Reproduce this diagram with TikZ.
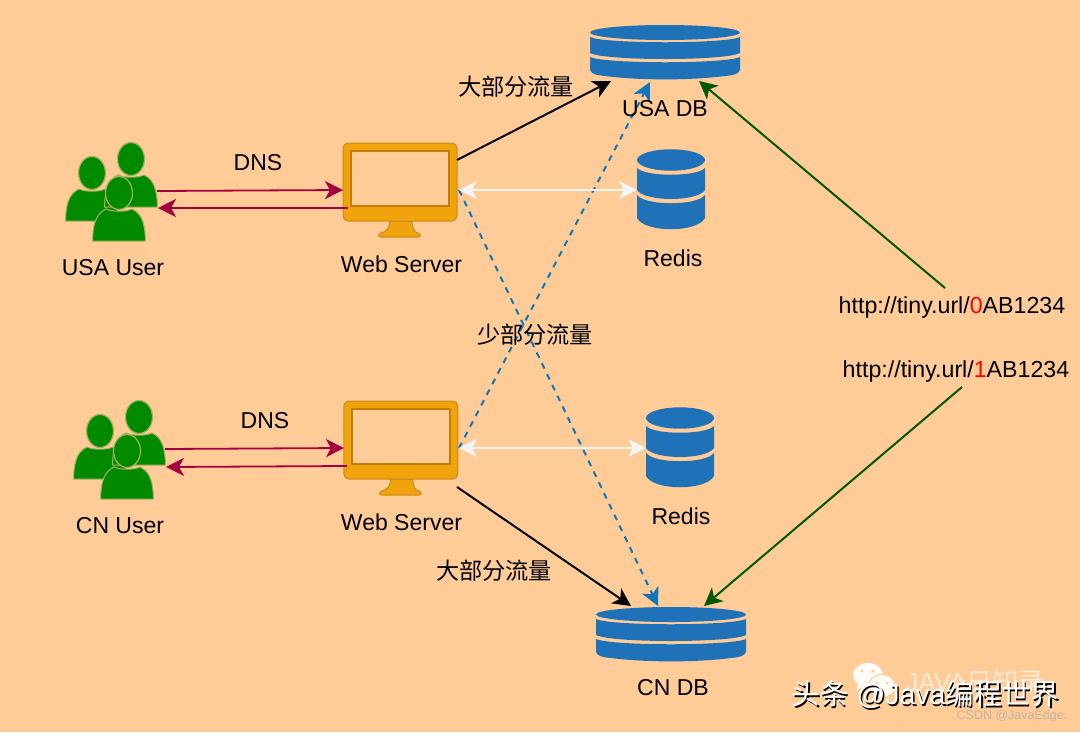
\documentclass[tikz,border=0pt]{standalone}
\usepackage{fontspec}
\setmainfont{Liberation Sans}
\newfontfamily\cjk{Noto Sans CJK SC}
\usetikzlibrary{arrows.meta}
\definecolor{bgc}{HTML}{FFCB96}
\definecolor{dbblue}{HTML}{2072B8}
\definecolor{xblue}{HTML}{1176B8}
\definecolor{pgreen}{HTML}{008A00}
\definecolor{pedge}{HTML}{A8B060}
\definecolor{monfill}{HTML}{F0A30A}
\definecolor{monedge}{HTML}{C98A20}
\definecolor{scredge}{HTML}{C27C08}
\definecolor{dnsred}{HTML}{A50040}
\definecolor{dgreen}{HTML}{005700}
\definecolor{wwhite}{HTML}{F5F5F5}
\definecolor{csdn}{HTML}{C4B5A2}
\tikzset{
  lbl/.style={font=\fontsize{23}{26}\selectfont,text=black,inner sep=0pt,align=center},
  zh/.style={font=\fontsize{23.2}{26}\selectfont\cjk,text=black,inner sep=0pt},
  url/.style={font=\fontsize{23.2}{26}\selectfont,text=black,inner sep=0pt},
  tip/.style={-{Stealth[length=18pt,width=18pt,inset=5pt]}},
  dns/.style={tip,draw=dnsred,line width=1.8pt},
  flow/.style={tip,draw=black,line width=2pt},
  cross/.style={tip,draw=xblue,line width=2pt,dash pattern=on 6pt off 6pt},
  cache/.style={{Stealth[length=18pt,width=18pt,inset=5pt]}-{Stealth[length=18pt,width=18pt,inset=5pt]},draw=wwhite,line width=2pt},
  link/.style={tip,draw=dgreen,line width=2pt},
  person/.pic={
    \path[fill=pgreen,draw=pedge,line width=1pt]
      (-26.5,48) .. controls (-26,33) and (-24,21) .. (-13,16)
      .. controls (-6,19) and (6,19) .. (13,16)
      .. controls (24,21) and (26,33) .. (26.5,48) -- cycle;
    \path[fill=pgreen,draw=pedge,line width=1.2pt] (0,0) ellipse [x radius=13.5pt,y radius=16.5pt];
  },
  users/.pic={
    \pic at (92,173) {person};
    \pic at (131,159) {person};
    \pic at (119,193) {person};
  },
  monitor/.pic={
    \path[fill=monfill,draw=monedge,line width=1pt]
      (390,221) .. controls (390,228) and (386,232) .. (381,233)
      .. controls (378,234) and (378,237) .. (381,237) -- (418,237)
      .. controls (421,237) and (421,234) .. (418,233)
      .. controls (414,232) and (412,228) .. (412,221) -- cycle;
    \path[fill=monfill,draw=monedge,line width=1pt,rounded corners=5pt] (343,143) rectangle (457,221);
    \path[fill=bgc,draw=scredge,line width=1.6pt] (351,151) rectangle (449,206);
  },
  db/.pic={
    \path[fill=dbblue] (665,32.5) ellipse [x radius=75pt,y radius=7.5pt];
    \path[fill=dbblue] (590,37) .. controls (605,44) and (725,44) .. (740,37) -- (740,53)
      .. controls (725,61) and (605,61) .. (590,53) -- cycle;
    \path[fill=dbblue] (590,57) .. controls (605,64) and (725,64) .. (740,57) -- (740,70)
      .. controls (738,74) and (735,75) .. (725,76) .. controls (690,80.5) and (640,80.5) .. (605,76)
      .. controls (595,75) and (592,74) .. (590,70) -- cycle;
  },
  cyl/.pic={
    \path[fill=dbblue] (671,160) ellipse [x radius=34pt,y radius=10.7pt];
    \path[fill=dbblue] (637,168) .. controls (645,177) and (697,177) .. (705,168) -- (705,190)
      .. controls (697,202) and (645,202) .. (637,190) -- cycle;
    \path[fill=dbblue] (637,195) .. controls (645,206) and (697,206) .. (705,195) -- (705,218)
      .. controls (697,233) and (645,233) .. (637,218) -- cycle;
  },
}
\begin{document}
\begin{tikzpicture}[x=1pt,y=-1pt]
\useasboundingbox[fill=bgc] (0,0) rectangle (1080,732);

% shapes
\pic at (0,0) {users};
\pic at (8,258) {users};
\pic at (0,0) {monitor};
\pic at (0.8,258) {monitor};
\pic at (0,0) {cyl};
\pic at (9,258) {cyl};
\pic at (0,0) {db};
\pic at (6,582) {db};

% connector ends
\coordinate (usaUserOut) at (157,191);
\coordinate (usaUserIn) at (158,208);
\coordinate (usaWebIn) at (343,190);
\coordinate (usaWebOut) at (348,208);
\coordinate (usaWebTop) at (457,160);
\coordinate (usaWebRight) at (459,190);
\coordinate (usaRedis) at (637,190);
\coordinate (usaDbA) at (611,81);
\coordinate (usaDbB) at (650,82);
\coordinate (usaDbC) at (699,81);
\coordinate (cnUserOut) at (165,449);
\coordinate (cnUserIn) at (166,467);
\coordinate (cnWebIn) at (344,448);
\coordinate (cnWebOut) at (347,466);
\coordinate (cnWebBottom) at (457,487);
\coordinate (cnWebRight) at (459,448);
\coordinate (cnRedis) at (646,448);
\coordinate (cnDbA) at (631,606);
\coordinate (cnDbB) at (658,606);
\coordinate (cnDbC) at (704,606);
\coordinate (url0From) at (945,288);
\coordinate (url1From) at (962,387);

% connectors
\draw[dns] (usaUserOut) -- (usaWebIn);
\draw[dns] (usaWebOut) -- (usaUserIn);
\draw[dns] (cnUserOut) -- (cnWebIn);
\draw[dns] (cnWebOut) -- (cnUserIn);
\draw[flow] (usaWebTop) -- (usaDbA);
\draw[flow] (cnWebBottom) -- (cnDbA);
\draw[cross] (usaWebRight) -- (cnDbB);
\draw[cross] (cnWebRight) -- (usaDbB);
\draw[cache] (usaWebRight) -- (usaRedis);
\draw[cache] (cnWebRight) -- (cnRedis);
\draw[link] (url0From) -- (usaDbC);
\draw[link] (url1From) -- (cnDbC);

% labels
\node[lbl] (usaUserLbl) at (113,268) {USA User};
\node[lbl] (cnUserLbl) at (120,526) {CN User};
\node[lbl] (usaWebLbl) at (401.5,264) {Web Server};
\node[lbl] (cnWebLbl) at (401.5,522) {Web Server};
\node[lbl] (dns1) at (258,163) {DNS};
\node[lbl] (dns2) at (265,421) {DNS};
\node[lbl] (redis1) at (673,258) {Redis};
\node[lbl] (redis2) at (681,516) {Redis};
\node[lbl] (usaDbLbl) at (665,109) {USA DB};
\node[lbl] (cnDbLbl) at (673,688) {CN DB};
\node[zh] (most1) at (516,87) {大部分流量};
\node[zh] (most2) at (494,571) {大部分流量};
\node[zh] (few) at (535,335) {少部分流量};
\node[url] (url0) at (952,307) {http://tiny.url/\textcolor{red}{0}AB1234};
\node[url] (url1) at (956,371) {http://tiny.url/\textcolor{red}{1}AB1234};

% watermark
\path[fill=white!93!bgc] (868,675) ellipse [x radius=15pt,y radius=12pt];
\path[fill=white!93!bgc] (858,684) -- (856,691) -- (864,686) -- cycle;
\path[fill=bgc] (862,671) circle (1.6pt) (873,671) circle (1.6pt);
\path[fill=white!93!bgc,draw=bgc,line width=1pt] (882,686) ellipse [x radius=13.5pt,y radius=11.5pt];
\path[fill=bgc] (877,683) circle (1.4pt) (887,683) circle (1.4pt);
\node[inner sep=0pt,text=white!60!bgc,font=\fontsize{26}{28}\selectfont] (wm1) at (975,682) {JAVA{\cjk 日知录}};
\node[inner sep=0pt,text=black,font=\fontsize{28.4}{30}\selectfont] (wm2s) at (927,696) {{\cjk 头条} @Java{\cjk 编程世界}};
\node[inner sep=0pt,text=white,font=\fontsize{28.4}{30}\selectfont] (wm2) at (925.5,694.5) {{\cjk 头条} @Java{\cjk 编程世界}};
\node[inner sep=0pt,text=csdn,font=\fontsize{12.5}{14}\selectfont] (wm3) at (1012,716) {CSDN @JavaEdge.};
\end{tikzpicture}
\end{document}
